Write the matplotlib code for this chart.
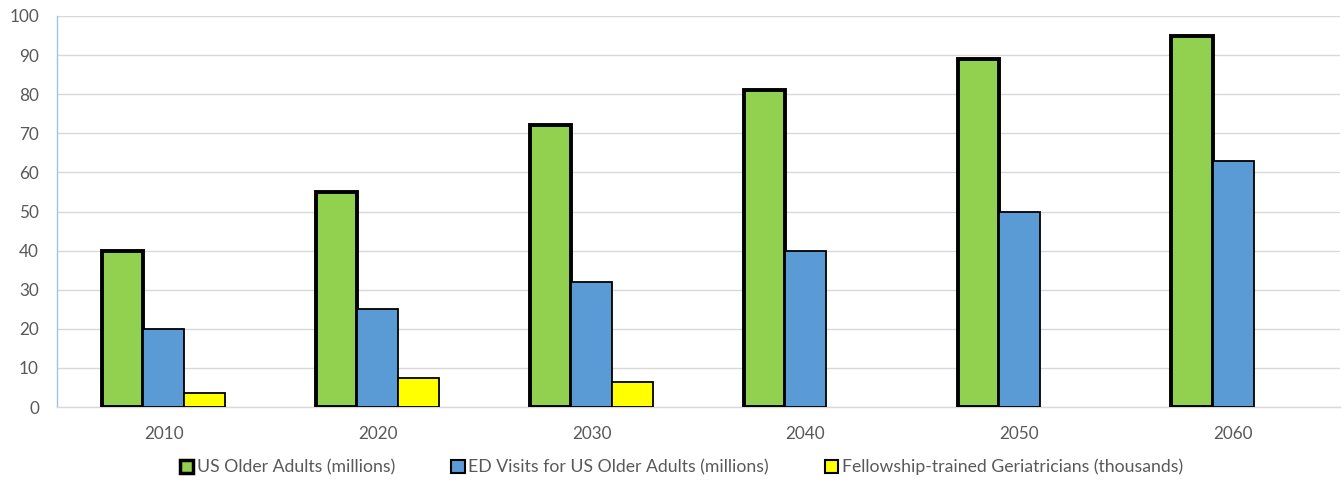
import matplotlib
matplotlib.use("Agg")
import matplotlib.pyplot as plt
import numpy as np
from matplotlib.patches import Patch

years = ["2010", "2020", "2030", "2040", "2050", "2060"]
older_adults = [40, 55, 72, 81, 89, 95]
ed_visits = [20, 25, 32, 40, 50, 63]
geriatricians = [3.6, 7.4, 6.3, 0, 0, 0]
series_names = ["US Older Adults (millions)",
                "ED Visits for US Older Adults (millions)",
                "Fellowship-trained Geriatricians (thousands)"]

plt.rcParams['font.family'] = ['Lato', 'DejaVu Sans']

fig = plt.figure(figsize=(13.44, 4.83), dpi=100)
ax = fig.add_axes([0.0424, 0.1573, 0.9546, 0.8096])

x = np.arange(len(years))
w = 0.192
ax.bar(x - w, older_adults, w, color="#92D050", edgecolor="black", linewidth=2.8, zorder=3)
ax.bar(x, ed_visits, w, color="#5B9BD5", edgecolor="black", linewidth=1.3, zorder=3)
geri_x = [xi + w for xi, v in zip(x, geriatricians) if v > 0]
geri_v = [v for v in geriatricians if v > 0]
ax.bar(geri_x, geri_v, w, color="#FFFF00", edgecolor="black", linewidth=1.3, zorder=3)

ax.set_xlim(-0.5, len(years) - 0.5)
ax.set_ylim(0, 100)
ax.set_yticks(range(0, 101, 10))
ax.set_xticks(x)
ax.set_xticklabels(years)
ax.yaxis.grid(True, color="#D9D9D9", linewidth=1.0, zorder=0)
ax.set_axisbelow(True)
for s in ["top", "right"]:
    ax.spines[s].set_visible(False)
ax.spines["left"].set_color("#9DC3E6")
ax.spines["left"].set_linewidth(1.0)
ax.spines["bottom"].set_color("#D9D9D9")
ax.spines["bottom"].set_linewidth(1.0)
ax.tick_params(axis="both", length=0, labelsize=12.3, colors="#595959")
ax.tick_params(axis="x", pad=14)
ax.tick_params(axis="y", pad=13)

handles = [Patch(facecolor="#92D050", edgecolor="black", linewidth=2.5),
           Patch(facecolor="#5B9BD5", edgecolor="black", linewidth=1.5),
           Patch(facecolor="#FFFF00", edgecolor="black", linewidth=1.5)]
leg = fig.legend(handles, series_names, loc="center", bbox_to_anchor=(0.507, 0.033),
                 ncol=3, frameon=False, fontsize=12.7, handlelength=0.75, handleheight=0.75,
                 handletextpad=0.2, columnspacing=3.2)
for t in leg.get_texts():
    t.set_color("#595959")

fig.savefig("out.png", dpi=100)
